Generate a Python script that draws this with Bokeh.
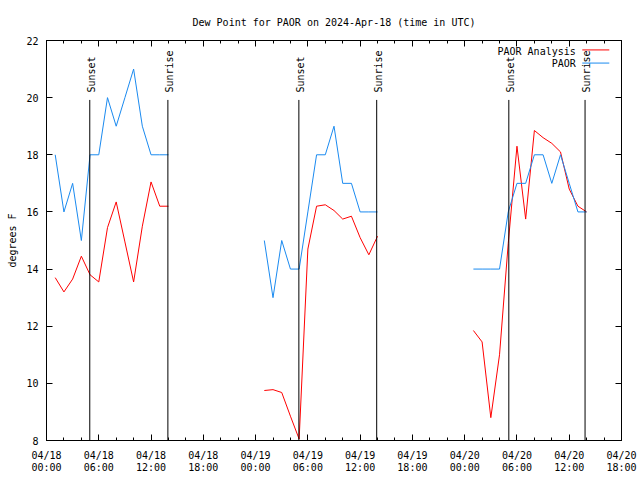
import math
import pandas as pd
from bokeh.plotting import figure
from bokeh.models import Range1d, FixedTicker, LinearAxis, ColumnDataSource
from bokeh.embed import file_html
from bokeh.resources import INLINE
from bokeh.core.properties import value

FONT = "DejaVu Sans Mono"

# ---------------- data ----------------
base_time = pd.Timestamp("2024-04-18 00:00")

hours_day1 = list(range(1, 15))
hours_day2 = list(range(25, 39))
hours_day3 = list(range(49, 63))

analysis_day1 = [13.7, 13.2, 13.65, 14.45, 13.8, 13.55, 15.45, 16.35, 14.95, 13.55, 15.5, 17.05, 16.2, 16.2]
analysis_day2 = [9.75, 9.78, 9.68, 8.85, 8.05, 14.7, 16.2, 16.25, 16.05, 15.75, 15.85, 15.1, 14.5, 15.15]
analysis_day3 = [11.85, 11.45, 8.8, 11.0, 14.9, 18.3, 15.75, 18.85, 18.6, 18.4, 18.1, 16.8, 16.2, 16.0]

obs_day1 = [18, 16, 17, 15, 18, 18, 20, 19, 20, 21, 19, 18, 18, 18]
obs_day2 = [15, 13, 15, 14, 14, 16, 18, 18, 19, 17, 17, 16, 16, 16]
obs_day3 = [14, 14, 14, 14, 16, 17, 17, 18, 18, 17, 18, 17, 16, 16]

sun_times = ["2024-04-18 04:58", "2024-04-18 13:56",
             "2024-04-19 04:58", "2024-04-19 13:54",
             "2024-04-20 05:04", "2024-04-20 13:49"]
sun_labels = ["Sunset", "Sunrise", "Sunset", "Sunrise", "Sunset", "Sunrise"]

x_tick_dates = ["04/18", "04/18", "04/18", "04/18",
                "04/19", "04/19", "04/19", "04/19",
                "04/20", "04/20", "04/20", "04/20"]
x_tick_times = ["00:00", "06:00", "12:00", "18:00"] * 3
y_ticks = [8, 10, 12, 14, 16, 18, 20, 22]

series_names = ["PAOR Analysis", "PAOR"]
series_colors = ["#ff0000", "#1a8af0"]

# ---------------- helpers ----------------
def ts(h):
    return base_time + pd.Timedelta(hours=h)

def ms(t):
    return pd.Timestamp(t).value / 1e6

x_start = ms(base_time)
x_end = ms(ts(66))
major_ticks = [ms(ts(6 * k)) for k in range(len(x_tick_dates))]
minor_ticks = [ms(ts(2 * k)) for k in range(34)]

p = figure(width=640, height=480, x_axis_type="datetime",
           x_range=Range1d(x_start, x_end), y_range=Range1d(8, 22),
           output_backend="svg", toolbar_location=None,
           min_border_left=46, min_border_right=19,
           min_border_top=40, min_border_bottom=40)

p.background_fill_color = "white"
p.border_fill_color = "white"
p.outline_line_color = "black"
p.outline_line_width = 1
p.grid.visible = False

# title
p.title.text = "Dew Point for PAOR on 2024-Apr-18 (time in UTC)"
p.title.text_font = FONT
p.title.text_font_size = "10px"
p.title.text_font_style = "normal"
p.title.align = "center"
p.title.text_color = "black"
p.title.standoff = 26

def style_axis(ax, labels=True):
    ax.axis_line_color = "black"
    ax.major_tick_line_color = "black"
    ax.minor_tick_line_color = "black"
    ax.major_tick_in = 6
    ax.major_tick_out = 0
    ax.minor_tick_in = 3
    ax.minor_tick_out = 0
    ax.major_label_text_font = FONT
    ax.major_label_text_font_size = "10px"
    ax.major_label_text_color = "black" if labels else None
    if not labels:
        ax.major_label_standoff = 0

# bottom axis: dates
xa = p.xaxis[0]
xa.ticker = FixedTicker(ticks=major_ticks, minor_ticks=minor_ticks)
xa.major_label_overrides = {t: lab for t, lab in zip(major_ticks, x_tick_dates)}
style_axis(xa)
xa.major_label_standoff = 9

# second bottom axis: times of day
xa2 = LinearAxis(ticker=FixedTicker(ticks=major_ticks, minor_ticks=[]))
xa2.major_label_overrides = {t: lab for t, lab in zip(major_ticks, x_tick_times)}
xa2.axis_line_color = None
xa2.major_tick_line_color = None
xa2.minor_tick_line_color = None
xa2.major_tick_in = 0
xa2.major_tick_out = 0
xa2.major_label_standoff = -2
xa2.major_label_text_font = FONT
xa2.major_label_text_font_size = "10px"
xa2.major_label_text_color = "black"
p.add_layout(xa2, "below")

ya = p.yaxis[0]
ya.ticker = FixedTicker(ticks=y_ticks, minor_ticks=[])
style_axis(ya)
ya.major_label_standoff = 8
ya.axis_label = "degrees F"
ya.axis_label_text_font = FONT
ya.axis_label_text_font_size = "10px"
ya.axis_label_text_font_style = "normal"
ya.axis_label_text_color = "black"
ya.axis_label_standoff = 5

top_ax = LinearAxis(ticker=FixedTicker(ticks=major_ticks, minor_ticks=minor_ticks))
style_axis(top_ax, labels=False)
p.add_layout(top_ax, "above")

right_ax = LinearAxis(ticker=FixedTicker(ticks=y_ticks, minor_ticks=[]))
style_axis(right_ax, labels=False)
p.add_layout(right_ax, "right")

# data lines
for hrs, vals in [(hours_day1, analysis_day1), (hours_day2, analysis_day2), (hours_day3, analysis_day3)]:
    p.line(x=[ts(h) for h in hrs], y=vals, line_color=series_colors[0], line_width=1)
for hrs, vals in [(hours_day1, obs_day1), (hours_day2, obs_day2), (hours_day3, obs_day3)]:
    p.line(x=[ts(h) for h in hrs], y=vals, line_color=series_colors[1], line_width=1)

# sunset / sunrise markers
sun_src = ColumnDataSource(dict(x=[pd.Timestamp(t) for t in sun_times],
                                y0=[8] * len(sun_times), y1=[19.92] * len(sun_times),
                                ty=[20.18] * len(sun_times), label=sun_labels))
p.segment(x0="x", y0="y0", x1="x", y1="y1", source=sun_src, line_color="black", line_width=1)
p.text(x="x", y="ty", text="label", source=sun_src, angle=math.pi / 2,
       text_align="left", text_baseline="middle", x_offset=1.5,
       text_font=value(FONT), text_font_size="10px", text_color="black")

# legend (gnuplot style: text then sample, top right)
leg_y = [21.63, 21.18]
p.text(x=[ts(60.75)] * 2, y=leg_y, text=series_names, text_align="right",
       text_baseline="middle", text_font=value(FONT), text_font_size="10px",
       text_color="black")
p.segment(x0=[ts(61.5)] * 2, y0=[21.67, 21.21], x1=[ts(64.6)] * 2, y1=[21.67, 21.21],
          line_color=series_colors, line_width=1)

open("out.html", "w").write(file_html(p, INLINE))
